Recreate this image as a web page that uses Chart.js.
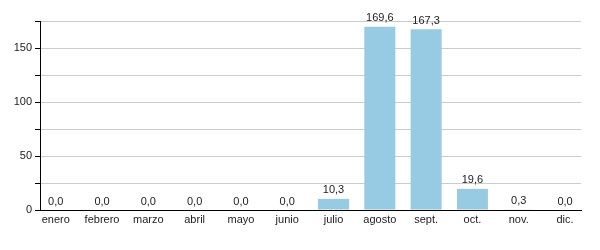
<!DOCTYPE html>
<html>
<head>
<meta charset="utf-8">
<script src="https://cdn.jsdelivr.net/npm/chart.js@4"></script>
<style>
  html, body { margin: 0; padding: 0; background: #fff; }
  #wrap { width: 600px; height: 250px; }
</style>
</head>
<body>
<div id="wrap"><canvas id="myChart" width="600" height="250"></canvas></div>
<script>
const months = ['enero', 'febrero', 'marzo', 'abril', 'mayo', 'junio', 'julio', 'agosto', 'sept.', 'oct.', 'nov.', 'dic.'];
const values = [0, 0, 0, 0, 0, 0, 10.3, 169.6, 167.3, 19.6, 0.3, 0];
const yTicks = [0, 50, 100, 150];

const FONT = '"Liberation Sans", Arial, sans-serif';

// draw value above each bar, comma as decimal mark
const barLabels = {
  id: 'barLabels',
  afterDatasetsDraw(chart) {
    const ctx = chart.ctx;
    const meta = chart.getDatasetMeta(0);
    ctx.save();
    ctx.font = '11px ' + FONT;
    ctx.fillStyle = '#222';
    ctx.textAlign = 'center';
    ctx.textBaseline = 'bottom';
    meta.data.forEach((bar, i) => {
      const txt = values[i].toFixed(1).replace('.', ',');
      ctx.fillText(txt, bar.x, bar.y - 3);
    });
    ctx.restore();
  },
};

const config = {
  type: 'bar',
  data: {
    datasets: [
      {
        data: values.map((v, i) => ({ x: i, y: v })),
        backgroundColor: '#96cbe3',
        barPercentage: 0.67,
        categoryPercentage: 1,
      },
    ],
  },
  options: {
    responsive: false,
    animation: false,
    layout: { padding: { top: 21, right: 19, left: 0, bottom: 0 } },
    plugins: {
      legend: { display: false },
      tooltip: { enabled: false },
    },
    scales: {
      x: {
        type: 'linear',
        min: -0.34,
        max: 11.345,
        offset: false,
        grid: { display: false, drawTicks: false },
        border: { color: '#000', width: 1 },
        afterBuildTicks: (s) => {
          s.ticks = months.map((m, i) => ({ value: i }));
        },
        ticks: {
          color: '#222',
          padding: 3,
          autoSkip: false,
          maxRotation: 0,
          font: { family: FONT, size: 11 },
          callback: (v) => months[v] ?? '',
        },
        afterFit: (s) => { s.height = 40; },
      },
      y: {
        min: 0,
        max: 175,
        grid: { color: '#cccccc', tickColor: '#000', tickLength: 5 },
        border: { color: '#000', width: 1 },
        ticks: {
          stepSize: 25,
          color: '#222',
          padding: 3,
          font: { family: FONT, size: 11 },
          callback: (v) => (yTicks.includes(v) ? v : ''),
        },
        afterFit: (s) => { s.width = 40; },
      },
    },
  },
  plugins: [barLabels],
};

new Chart(document.getElementById('myChart'), config);
</script>
</body>
</html>
